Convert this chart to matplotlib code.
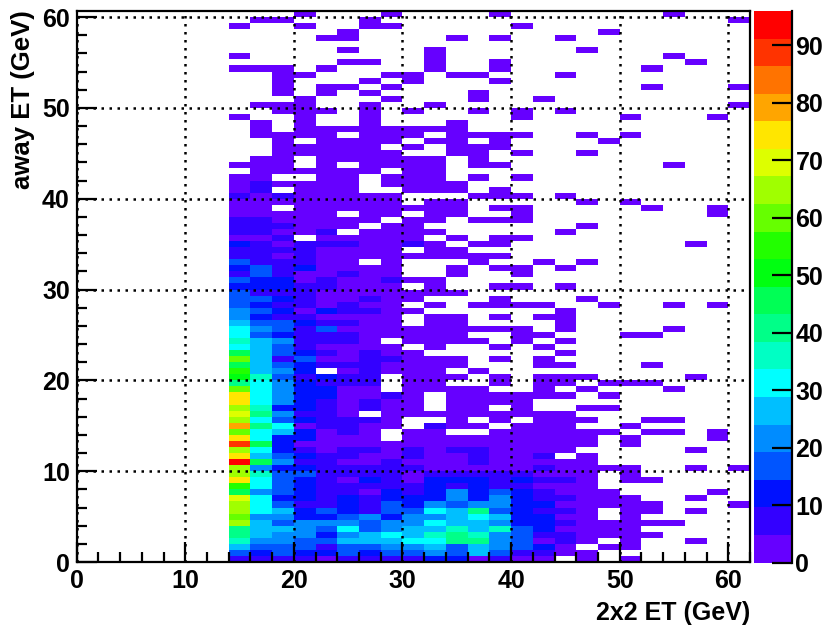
import numpy as np
import matplotlib
matplotlib.use("Agg")
import matplotlib.pyplot as plt
from matplotlib.colors import BoundaryNorm, ListedColormap
from matplotlib.ticker import MultipleLocator

plt.rcParams['font.family'] = ['Liberation Sans', 'DejaVu Sans']
plt.rcParams['font.weight'] = 'bold'

# --- histogram binning ---
x_bin = 2  # GeV
y_bin = 2 / 3  # GeV
first_col = 7  # first filled column, x = 14 GeV
n_cols = 31
z_max = 96

# palette bands from low to high
band_colors = ['#6600ff', '#3300ff', '#0011ff', '#0055ff', '#008cff', '#00bfff', '#00ffff',
               '#00ffc4', '#00ff88', '#00ff55', '#00ff11', '#22ff00', '#66ff00', '#a0ff00',
               '#ddff00', '#ffe600', '#ffa500', '#ff7300', '#ff3300', '#ff0000']
band_codes = '0123456789abcdefghij'

# counts, one character per bin (band of the palette), '.' = empty
# rows run from y = 0 upwards, columns from x = 14 to x = 62
rows = [
    "111101111220100.0.0.....",
    "32322323343531100.......",
    "5333133445354320.00.....",
    "74433555668843010.0..0..",
    "85442456578743110000....",
    "8554363455757320000.....",
    "d53444344655422100000...",
    "c4422342445652200.0.....",
    "d6523213365832110.00.0..",
    "d6311213243442200000...0",
    "e622121222424211000..0..",
    "943211021242321000....0.",
    "b6321111121211000.......",
    "f6321021022212110.00....",
    "d7331111011111000.0.....",
    "d422111110000010000..0.0",
    "j9411001000100000.......",
    "f53211001001001.0.......",
    "d621011010110000.....0..",
    "i9200000000000000.0.....",
    "f622000.000000000.0...0.",
    "c652010.00..000000.00.0.",
    "g8601100.100.000..0.....",
    "d6321110..0.0.000..00...",
    "e84110.000000000........",
    "d72210100.00.0..00......",
    "f64210100.0000..........",
    "f64220010.000000.0......",
    "c642200.0000..0.0...0...",
    "8642111.00..0.00.000....",
    "a731211.000.0.000....0..",
    "b542.01000.0............",
    "95321110000...00...0....",
    "c5130011000.0.0.........",
    "953210100......0........",
    "65310000.0..0.0.........",
    "7541110.0000.0.0........",
    "63211100000..00...00....",
    "64313000000000.0....0...",
    "53321100.00....0........",
    "42110000.00.0.00........",
    "432021100......0........",
    "32110100.0.0000..0..0.0.",
    "332100100...0...0.......",
    "31110000000.............",
    "22211000.0..00.0........",
    "3220100100..............",
    "13100100..0..0..........",
    "23120000..0.00.0........",
    "311100.0...0..0.0.......",
    "1101000000000...........",
    "11110000.00.............",
    "2101110010.00........0..",
    "001.00000.0.00..........",
    "11001.0000.....0........",
    "111000.00.......0.......",
    "1100000.00.000..........",
    "00000.00.00..0........0.",
    "00.00000000.00.....0..0.",
    "00000000.00.....0.0.....",
    "10100000...000.0........",
    "01.000..000.0...........",
    "010000.0000.............",
    "00..00.000.0.0..........",
    ".000000.00..............",
    "000.0.0000.00.......0...",
    ".00.000000.0............",
    "..000000..00.0..0.......",
    "..00000.0.000...........",
    "..0.0000.00.0....0......",
    ".0000.000.0000..0.0.....",
    ".0.00000000.............",
    ".0.0..0...0.............",
    "0..0..0......0....0...0.",
    "..000.0.0..0.0.0........",
    ".000..0..0.............0",
    "...0...0...0..0.........",
    "..0.0.0....0............",
    "..0.00.0...........0...0",
    "..0...0.0...0...........",
    "..00...00.00...0........",
    "000.0....0..0......0....",
    ".....00..0..0........0..",
    "0........0..........0...",
    ".....0...0......0.......",
    "........................",
    "....00....0.0..0........",
    ".....0...........0......",
    "0..0..00.....0..........",
    ".00...0................0",
    "...0...0....0.......0...",
]

x_ticks = [0, 10, 20, 30, 40, 50, 60]
y_ticks = [0, 10, 20, 30, 40, 50, 60]
z_ticks = [0, 10, 20, 30, 40, 50, 60, 70, 80, 90]

x_label = "2x2 ET (GeV)"
y_label = "away ET (GeV)"

# ------------ code ------------
band_width = z_max / len(band_colors)
z = np.full((len(rows), n_cols), np.nan)
for i, row in enumerate(rows):
    for j, c in enumerate(row):
        if c != '.':
            z[i, first_col + j] = (band_codes.index(c) + 0.5) * band_width
z = np.ma.masked_invalid(z)

x_edges = np.arange(n_cols + 1) * x_bin
y_edges = np.arange(len(rows) + 1) * y_bin

cmap = ListedColormap(band_colors)
norm = BoundaryNorm(np.arange(len(band_colors) + 1) * band_width, cmap.N)

W, H = 825, 629
fig = plt.figure(figsize=(W / 100, H / 100), dpi=100)
ax = fig.add_axes([76.7 / W, (H - 562) / H, 673.3 / W, 551 / H])
mesh = ax.pcolormesh(x_edges, y_edges, z, cmap=cmap, norm=norm)

ax.set_xlim(x_edges[0], x_edges[-1])
ax.set_ylim(y_edges[0], y_edges[-1])
ax.set_xticks(x_ticks)
ax.set_yticks(y_ticks)
ax.xaxis.set_minor_locator(MultipleLocator(2))
ax.yaxis.set_minor_locator(MultipleLocator(2))
ax.tick_params(which='major', direction='in', length=14.4, width=1.6, labelsize=18)
ax.tick_params(which='minor', direction='in', length=7.2, width=1.6)
ax.tick_params(axis='x', which='major', pad=5)
ax.tick_params(axis='y', which='major', pad=5)
ax.set_axisbelow(False)
ax.grid(True, which='major', color='black', linewidth=1.8, linestyle=(0, (1, 2.2)))
for side in ax.spines.values():
    side.set_linewidth(1.6)

ax.set_xlabel(x_label, fontsize=18, fontweight='bold', loc='right')
ax.xaxis.set_label_coords(1, -0.07)
ax.set_ylabel(y_label, fontsize=18.5, fontweight='bold', loc='top')
ax.yaxis.set_label_coords(-0.062, 1.002)

cax = fig.add_axes([754 / W, (H - 562.5) / H, 38 / W, 551.5 / H])
cbar = fig.colorbar(mesh, cax=cax, ticks=z_ticks, spacing='proportional')
cbar.outline.set_visible(False)
cbar.minorticks_off()
cax.spines['right'].set_visible(True)
cax.spines['right'].set_linewidth(1.6)
cax.tick_params(direction='in', length=14.4, width=1.6, labelsize=18, pad=2.5, right=True)

fig.savefig("out.png", dpi=100)
